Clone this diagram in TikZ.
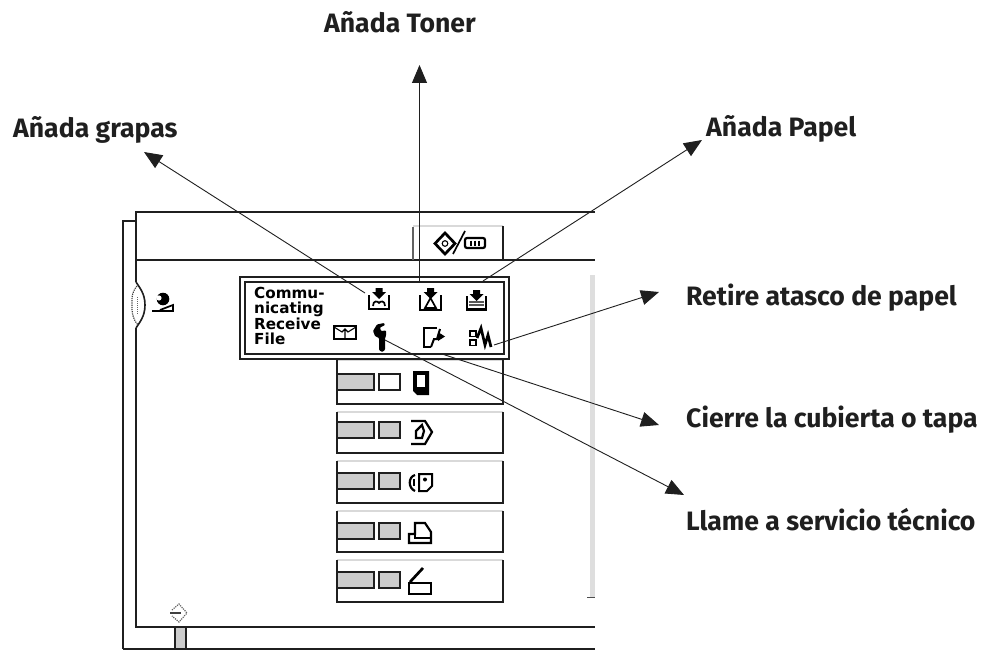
\documentclass[tikz,border=0pt]{standalone}
\usepackage{fontspec}
\setmainfont{Fira Sans}
\newfontfamily\pixfont{DejaVu Sans}
\usetikzlibrary{arrows.meta}
\definecolor{barfill}{gray}{0.80}
\definecolor{rail}{gray}{0.87}
\definecolor{ink}{gray}{0.12}
\tikzset{
  x=1pt,y=-1pt,
  callout/.style={font=\fontsize{26.6}{30}\selectfont\bfseries,anchor=base west,inner sep=0pt,text=ink},
  leader/.style={draw=ink,line width=0.9pt,-{Triangle[length=18pt,width=15pt]}},
  frame/.style={draw=ink,line width=1.6pt},
  icon/.style={draw=black,line width=1.7pt,fill=none},
  heavy icon/.style={draw=black,line width=2.7pt,fill=none},
  thin icon/.style={draw=black,line width=1.1pt,fill=none},
  tray icon/.style={draw=black,line width=2.6pt,fill=none},
  bar/.style={draw=ink,line width=1.5pt,fill=barfill},
  soft/.style={draw=black!15,line width=1.4pt},
  box/.style={anchor=north west,inner sep=0pt,outer sep=0pt},
}
\newcommand{\btnrow}[4]{% top, bottom, gray y, small box fill
  \draw[soft] (337,#1) -- (503,#1);
  \draw[frame] (337,#1) -- (337,#2);
  \draw[frame] (503,#1) -- (503,#2);
  \draw[ink,line width=2.2pt] (336.2,#2) -- (504,#2);
  \draw[bar] (337,#3) rectangle (374,#3+16);
  \draw[draw=ink,line width=1.5pt,fill=#4] (379,#3) rectangle (400,#3+16);
}
\newcommand{\downarrowicon}[2]{% tip-centre x, top y
  \fill[black] (#1-3.5,#2) -- (#1+3.5,#2) -- (#1+3.5,#2+4) -- (#1+7,#2+4) -- (#1,#2+11) -- (#1-7,#2+4) -- (#1-3.5,#2+4) -- cycle;
}
\begin{document}
\begin{tikzpicture}
\useasboundingbox (0,0) rectangle (982,650);
% machine outline
\draw[frame] (123,649) -- (123,221) -- (136,221);
\draw[frame] (595,212) -- (136,212) -- (136,282);
\draw[frame] (136,328) -- (136,627) -- (595,627);
\draw[frame] (136,260) -- (595,260);
\draw[frame] (123,649) -- (595,649);
% lens bump
\draw[frame] (136,282) .. controls (139,287) and (145,293) .. (145,305) .. controls (145,317) and (139,323) .. (136,328);
\draw[draw=black!75,line width=1.2pt,densely dotted] (137,286) .. controls (131,293) and (132,300) .. (132,305) .. controls (132,312) and (132,318) .. (138,325);
\draw[draw=black!60,line width=1pt,densely dotted] (137,297) -- (137,314);
% head icon
\fill[black] (163,299) circle (6.3);
\fill[white] (159,298) circle (2.6);
\draw[icon] (152,311) -- (173,311) -- (173,305) -- (160,310);
% toner key
\draw[soft] (413,226) -- (503,226);
\draw[draw=ink!70,line width=1.2pt] (413,227) -- (413,260);
\draw[frame] (503,226) -- (503,260);
\draw[heavy icon] (445,233) -- (455,243.5) -- (445,254) -- (435,243.5) -- cycle;
\draw[thin icon] (445,243.5) circle (2.8);
\draw[icon] (465,231) -- (453,254);
\draw[icon,line width=2.2pt,rounded corners=2pt] (465,238) rectangle (485,248);
\draw[draw=black,line width=1.2pt] (471,240.5) -- (471,245.5) (475,240.5) -- (475,245.5) (479,240.5) -- (479,245.5);
% scrollbar
\fill[rail] (590,275) rectangle (595,598);
\draw[draw=black!70,line width=1.4pt] (587,597.5) -- (595,597.5);
% key rows
\btnrow{360}{404}{374}{white}
\btnrow{412}{453}{422}{barfill}
\btnrow{461}{503}{473}{barfill}
\btnrow{511}{552}{523}{barfill}
\btnrow{560}{602}{572}{barfill}
% status panel
\node[box,fill=white,draw=ink,line width=1.7pt,minimum width=269pt,minimum height=82pt] (panel) at (240,277) {};
\node[box,draw=ink,line width=1.7pt,minimum width=259pt,minimum height=72pt] (inner) at (245,282) {};
\node[anchor=north west,inner sep=0pt,align=left,font=\pixfont\fontsize{15.2}{15.4}\selectfont\bfseries,text=black] (status) at (254,287) {Commu-\\nicating\\Receive\\File};
% mail icon
\draw[icon] (334,326) rectangle (356,339);
\draw[thin icon] (334,327) -- (342,332) -- (345,329) -- (348,332) -- (356,327) (345,329) -- (345,339);
% staples icon
\draw[tray icon] (369,295) -- (369,309) -- (389,309) -- (389,295);
\downarrowicon{379}{288}
\draw[icon] (373,306) .. controls (373,300) and (378,301) .. (379,303) .. controls (380,301) and (385,300) .. (385,306);
% toner icon
\draw[tray icon] (420,295) -- (420,310) -- (441,310) -- (441,295);
\downarrowicon{430.5}{288}
\draw[icon] (430.5,298) -- (425,308) -- (436,308) -- cycle;
% paper icon
\draw[tray icon] (467,296) -- (467,309.5) -- (486,309.5) -- (486,296);
\downarrowicon{476.5}{290}
\draw[draw=black!65,line width=1.3pt] (469,302) -- (484,302) (469,305) -- (484,305);
% wrench icon
\fill[black,rounded corners=0.8pt] (373,331) -- (377,324.5) -- (384,323) -- (385,325) -- (380,327.5) -- (381,331) -- (386,330.5) -- (386,336) -- (385,338) -- (385,350) -- (382,352) -- (379,350) -- (379,338) -- (375,336) -- cycle;
% cover icon
\draw[icon] (437,328) -- (424,328) -- (424,347) -- (431,347);
\draw[icon,line width=2pt] (431,347) -- (434,339) -- (437,339) -- (440,329);
\fill[black] (438,332) -- (445,336.5) -- (438,341) -- cycle;
% jam icon
\draw[icon,line width=1.9pt] (470,331) rectangle (476,336.5);
\draw[icon,line width=1.9pt] (470,340) rectangle (476,345.5);
\draw[heavy icon] (477,338) -- (481,328) -- (485,345) -- (488,335) -- (491,347);
% row icons
\fill[black] (413,371) -- (429,371) -- (429,395) -- (417,395) -- (413,391) -- cycle;
\fill[white] (417,375) -- (425,375) -- (425,387) -- (417,387) -- cycle;
\draw[icon,line width=2.2pt] (411,421) -- (425,421) -- (432,432) -- (425,444) -- (411,444);
\draw[icon,line width=2.2pt] (416,438) -- (416,431) -- (422,425) -- (424,431) -- (422,438) -- cycle;
\draw[icon,line width=2.2pt] (415,475) .. controls (408,477) and (408,488) .. (415,491);
\draw[thin icon] (414,479) -- (414,486);
\draw[icon,line width=2pt] (419,474) -- (432,474) -- (432,486) -- (427,491) -- (419,491) -- cycle;
\fill[black] (425,479.5) circle (2);
\draw[icon,line width=2.2pt] (409,543) -- (409,534) -- (415,534) -- (415,523) -- (425,523) -- (431,532) -- (431,543) -- cycle;
\draw[icon,line width=1.6pt] (415,534) -- (415,538) -- (431,538);
\draw[heavy icon] (410,582) -- (423,568);
\draw[icon,line width=2.2pt] (409,583) rectangle (431,594);
% exit icon
\draw[draw=black!60,line width=1.2pt,densely dotted] (172,610) -- (179,604) -- (187,613) -- (179,622) -- (172,616);
\draw[draw=black!75,line width=2pt] (170,613) -- (181,613);
% bottom strap
\draw[bar] (175,627) rectangle (186,649);
% labels
\node[callout] (toner) at (324,33) {Añada Toner};
\node[callout] (staples) at (13,137) {Añada grapas};
\node[callout] (paper) at (706,136) {Añada Papel};
\node[callout] (jam) at (686,305) {Retire atasco de papel};
\node[callout] (cover) at (686,427) {Cierre la cubierta o tapa};
\node[callout] (call) at (686,530) {Llame a servicio técnico};
% leaders
\coordinate (aStaple) at (365,293); \coordinate (tStaple) at (144,152);
\coordinate (aToner) at (419.5,282); \coordinate (tToner) at (419.5,65);
\coordinate (aPaper) at (483,281);  \coordinate (tPaper) at (702,140);
\coordinate (aJam) at (494,345);    \coordinate (tJam) at (659,292);
\coordinate (aCover) at (442,354);  \coordinate (tCover) at (659,425);
\coordinate (aCall) at (385,340);   \coordinate (tCall) at (684,495);
\draw[leader] (aStaple) -- (tStaple);
\draw[leader] (aToner) -- (tToner);
\draw[leader] (aPaper) -- (tPaper);
\draw[leader] (aJam) -- (tJam);
\draw[leader] (aCover) -- (tCover);
\draw[leader] (aCall) -- (tCall);
\end{tikzpicture}
\end{document}
